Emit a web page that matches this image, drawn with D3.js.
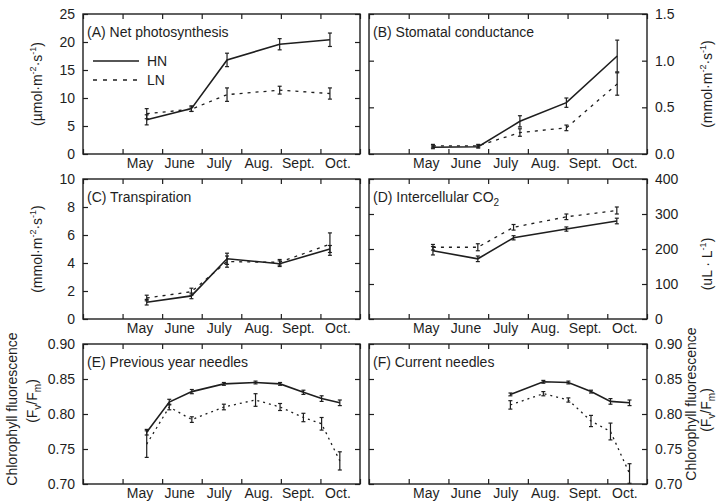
<!DOCTYPE html>
<html>
<head>
<meta charset="utf-8">
<script src="https://cdn.jsdelivr.net/npm/d3@7"></script>
<style>
  html, body { margin: 0; padding: 0; background: #fff; }
  svg { display: block; font-family: "Liberation Sans", Arial, sans-serif; }
</style>
</head>
<body>
<div id="chart"></div>
<script>
// month axis: 0 = start of April, 1 = start of May ... 7 = end of Oct.
const monthNames = ['May', 'June', 'July', 'Aug.', 'Sept.', 'Oct.'];
const monthTicks = [0, 1, 2, 3, 4, 5, 6, 7];
const monthLabelPos = [1.43, 2.43, 3.43, 4.43, 5.43, 6.43];

// gas exchange sampling dates (month units)
const gasDates = [1.61, 2.74, 3.64, 4.97, 6.24];
const stomDates = [1.61, 2.75, 3.8, 4.97, 6.25];

// (A) net photosynthesis
const netPsHN = [6.1, 8.1, 16.8, 19.6, 20.4];
const netPsHNErr = [0.9, 0.5, 1.2, 1.0, 1.2];
const netPsLN = [7.2, 8.0, 10.6, 11.4, 10.8];
const netPsLNErr = [0.9, 0.4, 1.2, 0.7, 1.0];

// (B) stomatal conductance
const stomHN = [0.072, 0.078, 0.35, 0.55, 1.05];
const stomHNErr = [0.015, 0.015, 0.06, 0.05, 0.17];
const stomLN = [0.088, 0.088, 0.23, 0.28, 0.75];
const stomLNErr = [0.015, 0.015, 0.04, 0.03, 0.12];

// (C) transpiration
const transHN = [1.2, 1.65, 4.3, 3.95, 5.0];
const transHNErr = [0.2, 0.2, 0.4, 0.2, 0.25];
const transLN = [1.5, 1.95, 4.1, 4.05, 5.35];
const transLNErr = [0.2, 0.25, 0.4, 0.2, 0.8];

// (D) intercellular CO2
const ciHN = [195, 172, 232, 257, 280];
const ciHNErr = [12, 8, 6, 6, 8];
const ciLN = [205, 205, 262, 292, 310];
const ciLNErr = [8, 10, 8, 8, 10];

// (E) previous year needles
const prevDates = [1.61, 2.18, 2.75, 3.56, 4.36, 4.98, 5.57, 6.03, 6.49];
const prevHN = [0.774, 0.817, 0.832, 0.843, 0.845, 0.843, 0.831, 0.822, 0.816];
const prevHNErr = [0.004, 0.004, 0.003, 0.002, 0.002, 0.002, 0.003, 0.004, 0.004];
const prevLN = [0.757, 0.81, 0.792, 0.81, 0.82, 0.81, 0.795, 0.786, 0.733];
const prevLNErr = [0.019, 0.004, 0.004, 0.004, 0.009, 0.005, 0.006, 0.009, 0.013];

// (F) current needles
const curDates = [3.56, 4.39, 5.02, 5.59, 6.08, 6.56];
const curHN = [0.828, 0.846, 0.845, 0.832, 0.818, 0.816];
const curHNErr = [0.002, 0.002, 0.002, 0.002, 0.004, 0.004];
const curLN = [0.813, 0.829, 0.82, 0.79, 0.775, 0.715];
const curLNErr = [0.006, 0.003, 0.003, 0.008, 0.012, 0.014];

const W = 721, H = 503;
const cols = [[83, 360], [369, 647]];
const rows = [14, 179, 344];
const ph = 140;
const ink = '#1e1e1e';

const svg = d3.select('#chart').append('svg')
    .attr('width', W).attr('height', H);

function pts(dates, vals, errs) {
    return dates.map((d, i) => ({ x: d, y: vals[i], e: errs[i] }));
}

function panel(p) {
    const [x0, x1] = cols[p.col];
    const y0 = rows[p.row];
    const x = d3.scaleLinear().domain([0, 7]).range([x0, x1]);
    const y = d3.scaleLinear().domain(p.yDomain).range([y0 + ph, y0]);
    const g = svg.append('g');

    // inward ticks on all four sides
    const left = p.col === 0;
    const labAxis = (left ? d3.axisLeft(y) : d3.axisRight(y))
        .tickValues(p.yTicks).tickSize(-5).tickSizeOuter(0).tickPadding(8)
        .tickFormat(d3.format(p.fmt));
    const oppAxis = (left ? d3.axisRight(y) : d3.axisLeft(y))
        .tickValues(p.yTicks).tickSize(-5).tickSizeOuter(0).tickFormat('');
    g.append('g').attr('transform', `translate(${left ? x0 : x1},0)`).call(labAxis);
    g.append('g').attr('transform', `translate(${left ? x1 : x0},0)`).call(oppAxis);
    g.append('g').attr('transform', `translate(0,${y0})`)
        .call(d3.axisTop(x).tickValues(monthTicks).tickSize(-5).tickSizeOuter(0).tickFormat(''));
    g.append('g').attr('transform', `translate(0,${y0 + ph})`)
        .call(d3.axisBottom(x).tickValues(monthTicks).tickSize(-5).tickSizeOuter(0).tickFormat(''));
    g.append('g').attr('transform', `translate(0,${y0 + ph})`)
        .call(d3.axisBottom(x).tickValues(monthLabelPos).tickSize(0).tickPadding(4)
            .tickFormat((d, i) => monthNames[i]));

    g.selectAll('.domain').remove();
    g.selectAll('.tick line').attr('stroke', ink).attr('stroke-width', 1.2);
    g.selectAll('.tick text').attr('fill', ink).attr('font-size', 14)
        .attr('font-family', '"Liberation Sans", Arial, sans-serif');

    g.append('rect').attr('x', x0).attr('y', y0)
        .attr('width', x1 - x0).attr('height', ph)
        .attr('fill', 'none').attr('stroke', ink).attr('stroke-width', 1.4);

    // series
    p.series.forEach(s => {
        const data = pts(s.dates, s.vals, s.errs);
        const line = d3.line().x(d => x(d.x)).y(d => y(d.y));
        g.append('path').datum(data)
            .attr('d', line).attr('fill', 'none').attr('stroke', ink)
            .attr('stroke-width', s.dashed ? 1.3 : 1.6)
            .attr('stroke-dasharray', s.dashed ? (p.row === 2 ? '2,4' : '3,5') : null);
        const eb = g.append('g').selectAll('g').data(data).enter().append('g')
            .attr('stroke', ink).attr('stroke-width', 1.2);
        eb.append('line')
            .attr('x1', d => x(d.x)).attr('x2', d => x(d.x))
            .attr('y1', d => y(Math.max(d.y - d.e, p.yDomain[0])))
            .attr('y2', d => y(d.y + d.e));
        eb.append('line')
            .attr('x1', d => x(d.x) - 2).attr('x2', d => x(d.x) + 2)
            .attr('y1', d => y(d.y + d.e)).attr('y2', d => y(d.y + d.e));
        eb.append('line')
            .attr('x1', d => x(d.x) - 2).attr('x2', d => x(d.x) + 2)
            .attr('y1', d => y(Math.max(d.y - d.e, p.yDomain[0])))
            .attr('y2', d => y(Math.max(d.y - d.e, p.yDomain[0])));
    });

    // panel title
    const t = g.append('text').attr('x', x0 + 4).attr('y', y0 + 23)
        .attr('font-size', 14).attr('fill', ink);
    p.title.forEach(part => {
        const ts = t.append('tspan').text(part.t);
        if (part.sub) ts.attr('font-size', 10).attr('dy', 4);
    });
    return { x, y, g };
}

// rotated unit label built from parts (sup / sub)
function vlabel(cx, cy, parts) {
    const t = svg.append('text')
        .attr('transform', `translate(${cx},${cy}) rotate(-90)`)
        .attr('text-anchor', 'middle').attr('font-size', 14).attr('fill', ink);
    let shift = 0;
    parts.forEach(part => {
        const ts = t.append('tspan').text(part.t);
        let target = 0;
        if (part.sup) { ts.attr('font-size', 9); target = -6; }
        if (part.sub) { ts.attr('font-size', 10); target = 4; }
        ts.attr('dy', target - shift);
        shift = target;
    });
}

const sHN = (d, v, e) => ({ dates: d, vals: v, errs: e, dashed: false });
const sLN = (d, v, e) => ({ dates: d, vals: v, errs: e, dashed: true });

const pA = panel({ col: 0, row: 0, yDomain: [0, 25], yTicks: [0, 5, 10, 15, 20, 25], fmt: 'd',
    title: [{ t: '(A) Net photosynthesis' }],
    series: [sHN(gasDates, netPsHN, netPsHNErr), sLN(gasDates, netPsLN, netPsLNErr)] });
panel({ col: 1, row: 0, yDomain: [0, 1.5], yTicks: [0, 0.5, 1, 1.5], fmt: '.1f',
    title: [{ t: '(B) Stomatal conductance' }],
    series: [sHN(stomDates, stomHN, stomHNErr), sLN(stomDates, stomLN, stomLNErr)] });
panel({ col: 0, row: 1, yDomain: [0, 10], yTicks: [0, 2, 4, 6, 8, 10], fmt: 'd',
    title: [{ t: '(C) Transpiration' }],
    series: [sHN(gasDates, transHN, transHNErr), sLN(gasDates, transLN, transLNErr)] });
panel({ col: 1, row: 1, yDomain: [0, 400], yTicks: [0, 100, 200, 300, 400], fmt: 'd',
    title: [{ t: '(D) Intercellular  CO' }, { t: '2', sub: true }],
    series: [sHN(gasDates, ciHN, ciHNErr), sLN(gasDates, ciLN, ciLNErr)] });
panel({ col: 0, row: 2, yDomain: [0.7, 0.9], yTicks: [0.7, 0.75, 0.8, 0.85, 0.9], fmt: '.2f',
    title: [{ t: '(E) Previous  year  needles' }],
    series: [sHN(prevDates, prevHN, prevHNErr), sLN(prevDates, prevLN, prevLNErr)] });
panel({ col: 1, row: 2, yDomain: [0.7, 0.9], yTicks: [0.7, 0.75, 0.8, 0.85, 0.9], fmt: '.2f',
    title: [{ t: '(F) Current  needles' }],
    series: [sHN(curDates, curHN, curHNErr), sLN(curDates, curLN, curLNErr)] });

// legend in panel A
const legend = [{ name: 'HN', dashed: false, y: 61 }, { name: 'LN', dashed: true, y: 80 }];
legend.forEach(l => {
    pA.g.append('line').attr('x1', 93).attr('x2', 139).attr('y1', l.y).attr('y2', l.y)
        .attr('stroke', ink).attr('stroke-width', 1.5)
        .attr('stroke-dasharray', l.dashed ? '4,6' : null);
    pA.g.append('text').attr('x', 147).attr('y', l.y + 5).attr('font-size', 14)
        .attr('fill', ink).text(l.name);
});

// unit labels
vlabel(42, 84, [{ t: '(µmol·m' }, { t: '-2', sup: true }, { t: '·s' }, { t: '-1', sup: true }, { t: ')' }]);
vlabel(42, 249, [{ t: '(mmol·m' }, { t: '-2', sup: true }, { t: '·s' }, { t: '-1', sup: true }, { t: ')' }]);
vlabel(712, 84, [{ t: '(mmol·m' }, { t: '-2', sup: true }, { t: '·s' }, { t: '-1', sup: true }, { t: ')' }]);
vlabel(712, 264, [{ t: '(uL · L' }, { t: '-1', sup: true }, { t: ')' }]);
vlabel(17, 409, [{ t: 'Chlorophyll  fluorescence' }]);
vlabel(37, 401, [{ t: '(F' }, { t: 'v', sub: true }, { t: '/F' }, { t: 'm', sub: true }, { t: ')' }]);
vlabel(696, 404, [{ t: 'Chlorophyll  fluorescence' }]);
vlabel(711, 410, [{ t: '(F' }, { t: 'v', sub: true }, { t: '/F' }, { t: 'm', sub: true }, { t: ')' }]);
</script>
</body>
</html>
